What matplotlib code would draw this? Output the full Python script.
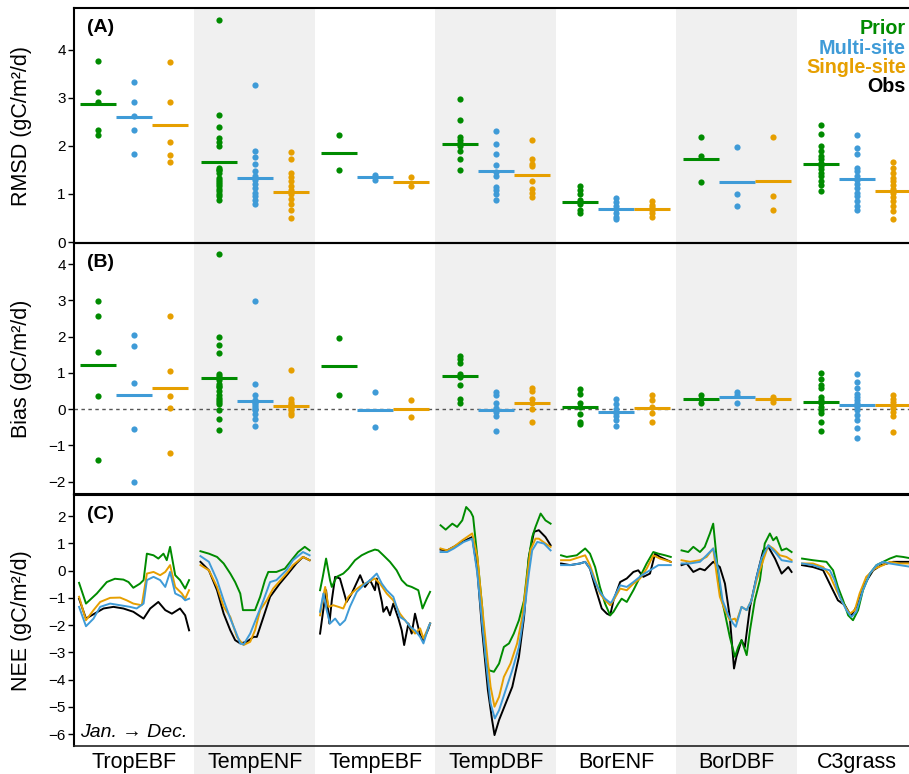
import numpy as np
import matplotlib
matplotlib.use("Agg")
import matplotlib.pyplot as plt

plt.rcParams['font.family'] = ['Liberation Sans', 'DejaVu Sans']

# categories and series
pfts = ["TropEBF", "TempENF", "TempEBF", "TempDBF", "BorENF", "BorDBF", "C3grass"]
series = ["Prior", "Multi-site", "Single-site"]
colors = {"Prior": "#008B00", "Multi-site": "#3F9BD7", "Single-site": "#E69F00", "Obs": "black"}

# (A) RMSD per site, one list per PFT
rmsd_prior = [[3.76, 3.13, 2.92, 2.34, 2.22],
              [4.63, 2.65, 2.39, 2.17, 2.08, 1.99, 1.54, 1.50, 1.49, 1.44, 1.34, 1.30, 1.25, 1.20, 1.17, 1.10, 1.07, 1.00, 0.95, 0.88],
              [2.23, 1.49],
              [2.97, 2.53, 2.18, 2.13, 2.06, 1.99, 1.89, 1.72, 1.49],
              [1.17, 1.09, 1.01, 0.88, 0.80, 0.67, 0.60],
              [2.18, 1.78, 1.24],
              [2.43, 2.24, 1.99, 1.89, 1.78, 1.72, 1.65, 1.58, 1.51, 1.44, 1.37, 1.26, 1.19, 1.06]]
rmsd_multi = [[3.33, 2.92, 2.63, 2.33, 1.84],
              [3.26, 1.90, 1.76, 1.63, 1.47, 1.38, 1.30, 1.21, 1.13, 1.03, 0.95, 0.88, 0.80],
              [1.40, 1.30],
              [2.32, 2.04, 1.83, 1.61, 1.45, 1.38, 1.15, 1.08, 0.99, 0.88],
              [0.92, 0.84, 0.75, 0.68, 0.60, 0.52, 0.47],
              [1.97, 1.01, 0.76],
              [2.22, 1.96, 1.84, 1.54, 1.47, 1.38, 1.30, 1.21, 1.13, 1.03, 0.95, 0.85, 0.74, 0.67]]
rmsd_single = [[3.75, 2.91, 2.08, 1.81, 1.67],
               [1.88, 1.73, 1.44, 1.35, 1.26, 1.16, 1.08, 0.99, 0.90, 0.80, 0.67, 0.49],
               [1.35, 1.16],
               [2.13, 1.72, 1.63, 1.58, 1.28, 1.10, 1.02, 0.93],
               [0.85, 0.78, 0.72, 0.66, 0.60, 0.53],
               [2.18, 0.95, 0.67],
               [1.66, 1.54, 1.44, 1.33, 1.26, 1.19, 1.10, 1.02, 0.93, 0.85, 0.76, 0.65, 0.47]]
rmsd_prior_mean = [2.87, 1.66, 1.86, 2.03, 0.83, 1.73, 1.62]
rmsd_multi_mean = [2.61, 1.33, 1.35, 1.47, 0.69, 1.24, 1.31]
rmsd_single_mean = [2.44, 1.04, 1.24, 1.40, 0.69, 1.26, 1.07]

# (B) Bias per site
bias_prior = [[2.99, 2.58, 1.58, 0.37, -1.40],
              [4.28, 1.98, 1.76, 1.55, 0.98, 0.90, 0.85, 0.80, 0.70, 0.65, 0.60, 0.50, 0.40, 0.30, 0.25, 0.20, 0.15, -0.03, -0.26, -0.58],
              [1.97, 0.39],
              [1.46, 1.37, 1.26, 0.98, 0.89, 0.66, 0.27, 0.16],
              [0.55, 0.43, 0.16, 0.06, -0.14, -0.35, -0.41],
              [0.39, 0.29, 0.18],
              [1.00, 0.82, 0.66, 0.57, 0.34, 0.25, 0.16, 0.06, -0.03, -0.12, -0.35, -0.61]]
bias_multi = [[2.05, 1.74, 0.72, -0.55, -2.02],
              [2.97, 0.69, 0.39, 0.25, 0.20, 0.16, 0.10, 0.06, 0.00, -0.03, -0.14, -0.26, -0.47],
              [0.46, -0.50],
              [0.46, 0.39, 0.18, 0.02, -0.07, -0.19, -0.60],
              [0.27, 0.15, 0.00, -0.10, -0.20, -0.30, -0.47],
              [0.48, 0.38, 0.16],
              [0.97, 0.74, 0.57, 0.43, 0.34, 0.25, 0.16, 0.06, -0.03, -0.17, -0.30, -0.53, -0.79]]
bias_single = [[2.58, 1.05, 0.37, 0.04, -1.20],
               [1.08, 0.27, 0.20, 0.14, 0.10, 0.06, 0.00, -0.03, -0.10, -0.17],
               [0.25, -0.23],
               [0.59, 0.50, 0.29, 0.16, -0.01, -0.35],
               [0.40, 0.25, 0.06, -0.12, -0.35],
               [0.34, 0.28, 0.20],
               [0.40, 0.29, 0.20, 0.11, 0.02, -0.07, -0.19, -0.64]]
bias_prior_mean = [1.22, 0.85, 1.18, 0.91, 0.05, 0.29, 0.21]
bias_multi_mean = [0.40, 0.22, -0.02, -0.02, -0.09, 0.34, 0.12]
bias_single_mean = [0.57, 0.08, 0.01, 0.17, 0.04, 0.28, 0.11]

# (C) mean seasonal NEE, (day of year, value)
nee_TropEBF = {
    "Obs": ([0, 23, 48, 81, 114, 147, 180, 214, 236, 263, 286, 308, 335, 352, 365],
            [-1.03, -1.76, -1.60, -1.39, -1.33, -1.39, -1.51, -1.76, -1.39, -1.15, -1.45, -1.58, -1.39, -1.64, -2.19]),
    "Prior": ([0, 23, 59, 92, 119, 147, 164, 180, 202, 214, 225, 247, 263, 280, 291, 302, 319, 335, 352, 365],
              [-0.45, -1.21, -0.84, -0.42, -0.30, -0.33, -0.42, -0.63, -0.48, -0.35, 0.62, 0.56, 0.44, 0.62, 0.38, 0.87, -0.17, -0.35, -0.66, -0.35]),
    "Single-site": ([0, 23, 48, 70, 103, 136, 158, 180, 208, 225, 247, 269, 286, 302, 319, 341, 352, 365],
                    [-0.96, -1.82, -1.45, -1.15, -1.00, -0.99, -1.09, -1.21, -1.27, -0.11, -0.05, -0.17, -0.05, 0.20, -0.60, -0.84, -1.03, -0.72]),
    "Multi-site": ([0, 23, 48, 70, 103, 136, 169, 191, 214, 225, 247, 269, 286, 302, 319, 341, 352, 365],
                   [-1.33, -2.04, -1.76, -1.33, -1.21, -1.27, -1.33, -1.39, -1.21, -0.35, -0.23, -0.35, -0.60, -0.05, -0.84, -0.96, -1.09, -1.03]),
}
nee_TempENF = {
    "Obs": ([3, 31, 58, 80, 102, 118, 135, 157, 179, 190, 212, 234, 266, 294, 321, 343, 365],
            [0.32, 0.01, -0.72, -1.58, -2.19, -2.55, -2.67, -2.61, -2.43, -2.43, -1.70, -0.96, -0.48, -0.11, 0.26, 0.50, 0.38]),
    "Prior": ([3, 31, 58, 80, 102, 118, 135, 144, 184, 201, 217, 228, 255, 283, 305, 327, 349, 365],
              [0.71, 0.62, 0.50, 0.26, -0.11, -0.42, -0.84, -1.45, -1.45, -0.96, -0.35, -0.05, -0.05, 0.07, 0.38, 0.68, 0.87, 0.74]),
    "Single-site": ([3, 31, 58, 80, 102, 124, 146, 168, 184, 201, 223, 244, 288, 310, 343, 365],
                    [0.20, 0.01, -0.60, -1.33, -1.70, -2.43, -2.73, -2.61, -2.19, -1.45, -1.09, -0.66, -0.11, 0.20, 0.50, 0.38]),
    "Multi-site": ([3, 31, 58, 80, 102, 118, 135, 146, 168, 190, 212, 234, 255, 288, 310, 343, 365],
                   [0.53, 0.32, -0.35, -1.09, -1.76, -2.19, -2.67, -2.71, -2.31, -1.70, -1.09, -0.42, -0.35, 0.01, 0.38, 0.68, 0.56]),
}
nee_TempEBF = {
    "Obs": ([0, 9, 20, 31, 39, 50, 66, 77, 88, 105, 133, 149, 166, 182, 188, 205, 210, 221, 232, 243, 260, 271, 279, 293, 304, 315, 332, 343, 360, 365],
            [-2.31, -1.58, -0.72, -1.94, -1.09, -0.23, -0.29, -0.72, -1.15, -0.84, -0.17, -0.60, -0.35, -0.72, -0.29, -1.15, -1.51, -1.33, -1.64, -1.21, -1.76, -2.19, -2.73, -1.94, -2.31, -1.58, -2.37, -2.55, -2.12, -1.94]),
    "Prior": ([0, 9, 20, 33, 39, 55, 77, 94, 116, 138, 160, 182, 193, 210, 232, 254, 271, 288, 304, 326, 340, 354, 365],
              [-0.72, -0.23, 0.44, -0.35, -0.60, -0.23, -0.11, 0.07, 0.38, 0.56, 0.68, 0.77, 0.74, 0.56, 0.32, 0.01, -0.35, -0.54, -0.60, -0.72, -1.39, -1.03, -0.78]),
    "Single-site": ([0, 9, 17, 28, 44, 61, 77, 94, 116, 138, 160, 182, 199, 221, 243, 265, 282, 299, 315, 332, 343, 365],
                    [-1.64, -1.03, -0.60, -1.33, -1.27, -1.33, -1.39, -0.96, -0.72, -0.54, -0.42, -0.29, -0.48, -0.84, -1.09, -1.58, -1.82, -2.06, -2.31, -2.12, -2.49, -1.94]),
    "Multi-site": ([0, 11, 22, 33, 50, 66, 83, 99, 122, 144, 166, 188, 205, 221, 243, 265, 282, 299, 315, 332, 343, 360, 365],
                   [-1.51, -0.84, -1.45, -1.94, -1.76, -2.00, -1.82, -1.33, -0.78, -0.54, -0.35, -0.11, -0.48, -0.72, -0.96, -1.70, -1.82, -2.06, -2.19, -2.43, -2.67, -2.06, -1.94]),
}
nee_TempDBF = {
    "Obs": ([0, 22, 44, 72, 105, 122, 138, 157, 171, 179, 194, 216, 238, 260, 277, 293, 310, 326, 348, 365],
            [0.77, 0.74, 0.87, 1.05, 1.23, 0.01, -2.19, -4.38, -5.48, -6.03, -5.48, -4.87, -4.26, -3.16, -1.70, 0.50, 1.42, 1.48, 1.23, 0.93]),
    "Prior": ([0, 17, 39, 55, 72, 85, 100, 108, 122, 138, 149, 160, 177, 194, 210, 227, 243, 260, 277, 293, 304, 315, 332, 348, 365],
              [1.66, 1.50, 1.72, 1.60, 1.84, 2.33, 2.15, 1.97, 0.50, -1.33, -3.16, -3.65, -3.71, -3.41, -2.80, -2.67, -2.31, -1.82, -1.09, 0.50, 1.23, 1.60, 2.09, 1.84, 1.72]),
    "Single-site": ([0, 22, 44, 72, 105, 122, 138, 155, 166, 179, 194, 210, 232, 254, 271, 287, 298, 315, 326, 348, 365],
                    [0.81, 0.74, 0.87, 1.11, 1.36, 0.50, -1.33, -3.16, -4.26, -4.99, -4.63, -3.90, -3.41, -2.67, -1.70, -0.23, 0.74, 1.17, 1.17, 0.99, 0.87]),
    "Multi-site": ([0, 22, 44, 77, 105, 122, 138, 155, 166, 180, 194, 216, 238, 260, 277, 293, 304, 321, 343, 365],
                   [0.68, 0.68, 0.81, 1.05, 1.17, -0.11, -1.94, -3.77, -4.87, -5.42, -5.12, -4.38, -3.65, -2.80, -1.58, -0.11, 0.74, 1.05, 0.99, 0.74]),
}
nee_BorENF = {
    "Obs": ([0, 30, 63, 80, 96, 113, 135, 152, 163, 174, 196, 218, 240, 256, 273, 295, 312, 328, 364],
            [0.26, 0.20, 0.26, 0.32, 0.07, -0.60, -1.39, -1.58, -1.64, -1.09, -0.42, -0.29, -0.05, 0.01, -0.23, -0.11, 0.62, 0.50, 0.32]),
    "Prior": ([0, 19, 52, 80, 96, 113, 129, 146, 163, 174, 190, 201, 218, 240, 262, 284, 306, 323, 345, 364],
              [0.56, 0.50, 0.56, 0.81, 0.62, 0.13, -0.60, -1.21, -1.64, -1.51, -1.21, -1.03, -1.15, -0.72, -0.23, 0.26, 0.68, 0.62, 0.56, 0.50]),
    "Single-site": ([0, 30, 63, 80, 96, 113, 129, 146, 163, 174, 196, 218, 240, 262, 284, 306, 328, 364],
                    [0.38, 0.38, 0.50, 0.56, 0.20, -0.35, -0.84, -1.09, -1.27, -1.09, -0.66, -0.72, -0.48, -0.29, 0.07, 0.56, 0.44, 0.32]),
    "Multi-site": ([0, 30, 63, 80, 96, 113, 129, 146, 163, 168, 196, 218, 240, 268, 295, 323, 364],
                   [0.20, 0.20, 0.26, 0.32, 0.07, -0.42, -0.78, -1.03, -1.18, -1.15, -0.54, -0.60, -0.42, -0.17, 0.01, 0.20, 0.20]),
}
nee_BorDBF = {
    "Obs": ([0, 17, 39, 61, 77, 105, 127, 144, 160, 174, 182, 199, 210, 227, 249, 271, 288, 310, 332, 354, 365],
            [0.20, 0.26, -0.05, 0.07, 0.01, 0.32, 0.13, -0.48, -1.70, -3.59, -3.16, -2.55, -2.80, -1.33, -0.23, 0.74, 0.87, 0.44, -0.11, 0.13, -0.05]),
    "Prior": ([0, 22, 39, 61, 77, 94, 105, 116, 127, 144, 160, 177, 188, 199, 216, 227, 243, 260, 276, 293, 304, 315, 332, 348, 365],
              [0.74, 0.68, 0.87, 0.68, 0.87, 1.36, 1.72, 0.50, -0.72, -1.58, -2.43, -3.16, -2.80, -2.55, -3.10, -2.19, -1.09, -0.35, 0.99, 1.36, 1.11, 1.23, 0.74, 0.81, 0.68]),
    "Single-site": ([0, 28, 61, 83, 105, 116, 127, 144, 160, 177, 182, 199, 216, 232, 249, 271, 288, 304, 326, 348, 365],
                    [0.38, 0.32, 0.38, 0.50, 0.81, -0.11, -0.96, -1.45, -1.82, -1.76, -1.88, -1.33, -1.45, -1.09, -0.35, 0.38, 0.93, 0.81, 0.56, 0.50, 0.38]),
    "Multi-site": ([0, 28, 61, 83, 105, 122, 136, 155, 171, 180, 199, 216, 232, 249, 265, 288, 310, 332, 365],
                   [0.26, 0.26, 0.32, 0.56, 0.81, 0.01, -1.09, -1.64, -1.94, -2.06, -1.33, -1.45, -1.09, -0.23, 0.44, 0.93, 0.68, 0.38, 0.32]),
}
nee_C3grass = {
    "Obs": ([0, 36, 70, 97, 119, 142, 158, 164, 186, 208, 236, 263, 302, 324, 365],
            [0.20, 0.13, 0.01, -0.60, -1.09, -1.27, -1.58, -1.64, -1.21, -0.48, 0.01, 0.20, 0.32, 0.32, 0.32]),
    "Prior": ([0, 36, 81, 103, 119, 136, 153, 169, 186, 202, 225, 247, 269, 291, 313, 335, 365],
              [0.44, 0.38, 0.32, 0.01, -0.60, -1.09, -1.64, -1.82, -1.45, -0.72, -0.11, 0.20, 0.32, 0.44, 0.53, 0.50, 0.44]),
    "Single-site": ([0, 36, 70, 92, 114, 136, 158, 175, 191, 213, 241, 269, 291, 324, 365],
                    [0.26, 0.26, 0.13, -0.17, -0.72, -1.21, -1.58, -1.45, -0.84, -0.23, 0.07, 0.20, 0.32, 0.26, 0.26]),
    "Multi-site": ([0, 36, 70, 92, 108, 125, 147, 164, 180, 202, 225, 247, 269, 291, 324, 365],
                   [0.26, 0.20, 0.07, 0.01, -0.35, -0.96, -1.45, -1.70, -1.51, -0.72, -0.11, 0.20, 0.32, 0.26, 0.20, 0.13]),
}
nee_all = [nee_TropEBF, nee_TempENF, nee_TempEBF, nee_TempDBF, nee_BorENF, nee_BorDBF, nee_C3grass]

# ---- layout (pixels of a 909x774 canvas)
W, H = 909, 774
fig = plt.figure(figsize=(W / 100, H / 100), dpi=100)
left = 74 / W
width = 843.5 / W

def frac(top_px, bot_px):
    return [left, 1 - bot_px / H, width, (bot_px - top_px) / H]

# grey background bands for every second PFT, reaching into the label area
bg = fig.add_axes([left, 0, width, 1 - 9 / H], zorder=0)
bg.set_xlim(0.5, 7.5)
bg.axis('off')
for i in [2, 4, 6]:
    bg.axvspan(i - 0.5, i + 0.5, color="#F0F0F0", lw=0)

axA = fig.add_axes(frac(8, 243), zorder=1)
axB = fig.add_axes(frac(243, 494), zorder=1)
axC = fig.add_axes(frac(495, 746), zorder=1)

offs = {"Prior": -0.3, "Multi-site": 0.0, "Single-site": 0.3}

def dots(ax, pts, means, name):
    for i in range(len(pfts)):
        x = i + 1 + offs[name]
        v = np.array(pts[i])
        ax.scatter(np.full(len(v), x), v, s=20, color=colors[name], lw=0, zorder=3)
        ax.hlines(means[i], x - 0.15, x + 0.15, color=colors[name], lw=2.2, zorder=4)

dots(axA, rmsd_prior, rmsd_prior_mean, "Prior")
dots(axA, rmsd_multi, rmsd_multi_mean, "Multi-site")
dots(axA, rmsd_single, rmsd_single_mean, "Single-site")
dots(axB, bias_prior, bias_prior_mean, "Prior")
dots(axB, bias_multi, bias_multi_mean, "Multi-site")
dots(axB, bias_single, bias_single_mean, "Single-site")
axB.axhline(0, color="#555555", lw=1.0, ls=(0, (2.5, 2.5)), zorder=2)

for i, d in enumerate(nee_all):
    for name in ["Obs", "Prior", "Single-site", "Multi-site"]:
        day, val = d[name]
        x = i + 1 - 0.458 + np.array(day) / 365.0 * 0.913
        axC.plot(x, val, color=colors[name], lw=1.4, zorder=3)

axA.set_ylim(-0.02, 4.87)
axA.set_yticks([0, 1, 2, 3, 4])
axB.set_ylim(-2.34, 4.58)
axB.set_yticks([-2, -1, 0, 1, 2, 3, 4])
axC.set_ylim(-6.43, 2.77)
axC.set_yticks([-6, -5, -4, -3, -2, -1, 0, 1, 2])

for ax in [axA, axB, axC]:
    ax.set_xlim(0.5, 7.5)
    ax.set_facecolor("none")
    ax.spines['right'].set_visible(False)
    for s in ['left', 'top', 'bottom']:
        ax.spines[s].set_linewidth(1.5)
    ax.tick_params(axis='y', labelsize=11, length=4, width=1, pad=2)
    ax.set_yticklabels([str(t).replace('-', '\u2212') for t in ax.get_yticks().astype(int)])

for ax in [axA, axB]:
    ax.set_xticks([])
axC.spines['bottom'].set_linewidth(1.2)
axC.spines['bottom'].set_color("#222222")
axC.set_xticks(range(1, 8))
axC.set_xticklabels(pfts, fontsize=15.5)
axC.tick_params(axis='x', length=0, pad=4)

# y titles, right edge of the rotated text near x = 32 px
lab_x = (32 - 74) / 843.5
axA.set_ylabel("RMSD (gC/m\u00b2/d)", fontsize=15.5)
axB.set_ylabel("Bias (gC/m\u00b2/d)", fontsize=15.5)
axC.set_ylabel("NEE (gC/m\u00b2/d)", fontsize=15.5)
for ax in [axA, axB, axC]:
    ax.yaxis.set_label_coords(lab_x, 0.5)

for ax, lab in [(axA, "(A)"), (axB, "(B)"), (axC, "(C)")]:
    ax.annotate(lab, xy=(0, 1), xycoords='axes fraction', xytext=(13, -11),
                textcoords='offset pixels', ha='left', va='top',
                fontsize=14, fontweight='bold')
axC.annotate("Jan. \u2192 Dec.", xy=(0, 0), xycoords='axes fraction', xytext=(6, 5),
             textcoords='offset pixels', ha='left', va='bottom',
             fontsize=14, fontstyle='italic')

# legend as coloured text
for name, base in [("Prior", 34), ("Multi-site", 53.5), ("Single-site", 73), ("Obs", 92.5)]:
    fig.text(906 / W, 1 - base / H, name, color=colors[name], fontsize=14.2,
             fontweight='bold', ha='right', va='baseline')

fig.savefig("out.png", dpi=100)
